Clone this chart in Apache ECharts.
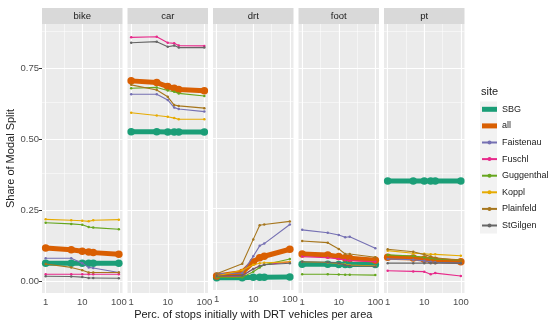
<!DOCTYPE html>
<html>
<head>
<meta charset="utf-8">
<script src="https://cdn.jsdelivr.net/npm/echarts@6/dist/echarts.min.js"></script>
<style>html,body{margin:0;padding:0;background:#fff}#c{width:556px;height:325px}</style>
</head>
<body>
<div id="c"></div>
<script>
// ---- data ----
const modes = ['bike', 'car', 'drt', 'foot', 'pt'];
const sites = ['SBG', 'all', 'Faistenau', 'Fuschl', 'Guggenthal', 'Koppl', 'Plainfeld', 'StGilgen'];
const stopsPct = [1, 5, 10, 15, 20, 100];
const xTicks = [1, 10, 100];
const yTicks = [0, 0.25, 0.5, 0.75];
const xMinorTicks = [Math.sqrt(10), Math.sqrt(1000)];
const yMinorTicks = [0.125, 0.375, 0.625, 0.875];

// rows follow the order of `sites`
const bike = [
  [0.065, 0.065, 0.065, 0.065, 0.065, 0.065],
  [0.118, 0.112, 0.107, 0.104, 0.102, 0.096],
  [0.082, 0.082, 0.065, 0.050, 0.048, 0.032],
  [0.026, 0.026, 0.026, 0.026, 0.026, 0.026],
  [0.207, 0.203, 0.200, 0.192, 0.190, 0.184],
  [0.219, 0.216, 0.214, 0.212, 0.216, 0.218],
  [0.062, 0.050, 0.040, 0.032, 0.032, 0.032],
  [0.019, 0.018, 0.016, 0.013, 0.013, 0.012]
];
const car = [
  [0.527, 0.527, 0.526, 0.526, 0.526, 0.526],
  [0.706, 0.700, 0.686, 0.680, 0.676, 0.671],
  [0.659, 0.659, 0.639, 0.612, 0.607, 0.598],
  [0.859, 0.861, 0.840, 0.838, 0.830, 0.829],
  [0.680, 0.683, 0.672, 0.668, 0.662, 0.653],
  [0.594, 0.584, 0.580, 0.575, 0.571, 0.571],
  [0.692, 0.674, 0.650, 0.621, 0.618, 0.610],
  [0.840, 0.844, 0.826, 0.830, 0.823, 0.823]
];
const drt = [
  [0.004, 0.004, 0.005, 0.005, 0.005, 0.006],
  [0.010, 0.022, 0.060, 0.075, 0.080, 0.105],
  [0.018, 0.020, 0.080, 0.117, 0.125, 0.193],
  [0.005, 0.010, 0.035, 0.045, 0.050, 0.060],
  [0.005, 0.005, 0.025, 0.040, 0.050, 0.070],
  [0.010, 0.030, 0.050, 0.055, 0.057, 0.060],
  [0.018, 0.053, 0.140, 0.190, 0.193, 0.204],
  [0.010, 0.012, 0.035, 0.045, 0.050, 0.055]
];
const foot = [
  [0.061, 0.061, 0.060, 0.060, 0.060, 0.060],
  [0.097, 0.094, 0.088, 0.084, 0.082, 0.075],
  [0.182, 0.172, 0.164, 0.156, 0.158, 0.117],
  [0.088, 0.084, 0.080, 0.076, 0.074, 0.070],
  [0.026, 0.026, 0.025, 0.024, 0.024, 0.023],
  [0.070, 0.067, 0.064, 0.060, 0.058, 0.055],
  [0.143, 0.137, 0.115, 0.097, 0.097, 0.086],
  [0.070, 0.068, 0.065, 0.058, 0.056, 0.053]
];
const pt = [
  [0.354, 0.354, 0.354, 0.354, 0.354, 0.354],
  [0.086, 0.083, 0.079, 0.076, 0.074, 0.070],
  [0.080, 0.077, 0.073, 0.070, 0.068, 0.065],
  [0.038, 0.036, 0.035, 0.026, 0.030, 0.020],
  [0.094, 0.090, 0.085, 0.082, 0.080, 0.075],
  [0.109, 0.100, 0.098, 0.096, 0.096, 0.091],
  [0.114, 0.105, 0.095, 0.088, 0.084, 0.074],
  [0.065, 0.065, 0.065, 0.065, 0.065, 0.065]
];
const modeData = { bike: bike, car: car, drt: drt, foot: foot, pt: pt };
const siteColors = ['#1B9E77', '#D95F02', '#7570B3', '#E7298A', '#66A61E', '#E6AB02', '#A6761D', '#666666'];
const thickSites = ['SBG', 'all'];

// ---- layout ----
const panelLefts = [42, 127.5, 213, 298.5, 384];
const panelW = 80.5, panelTop = 24, panelH = 269;
const xMin = Math.pow(10, -0.1), xMax = Math.pow(10, 2.1);
const yMin = -0.04, yMax = 0.906;
const FONT = 'Liberation Sans, Arial, sans-serif';

const grid = [], xAxis = [], yAxis = [], series = [], graphic = [];
modes.forEach((m, i) => {
  grid.push({ left: panelLefts[i], top: panelTop, width: panelW, height: panelH,
    show: true, backgroundColor: '#EBEBEB', borderWidth: 0, z: 0, containLabel: false });
  xAxis.push({ type: 'log', gridIndex: i, min: xMin, max: xMax,
    axisLine: { show: false },
    axisTick: { show: true, length: 3, lineStyle: { color: '#333333', width: 1 }, customValues: xTicks },
    axisLabel: { show: true, customValues: xTicks, color: '#4D4D4D', fontSize: 9.5, fontFamily: FONT, margin: 4,
      formatter: v => String(Math.round(v)) },
    splitLine: { show: true, lineStyle: { color: '#FFFFFF', width: 1.1 } },
    name: i === 2 ? 'Perc. of stops initially with DRT vehicles per area' : '',
    nameLocation: 'middle', nameGap: 19,
    nameTextStyle: { fontSize: 11, color: '#1A1A1A', fontFamily: FONT }
  });
  yAxis.push({ type: 'value', gridIndex: i, min: yMin, max: yMax,
    axisLine: { show: false },
    axisTick: { show: i === 0, length: 3, lineStyle: { color: '#333333', width: 1 }, customValues: yTicks },
    axisLabel: { show: i === 0, customValues: yTicks, color: '#4D4D4D', fontSize: 9.5, fontFamily: FONT, margin: 3,
      formatter: v => v.toFixed(2) },
    splitLine: { show: true, lineStyle: { color: '#FFFFFF', width: 1.1 } },
    name: i === 0 ? 'Share of Modal Split' : '',
    nameLocation: 'middle', nameGap: 18,
    nameTextStyle: { fontSize: 11, color: '#1A1A1A', fontFamily: FONT }
  });
  // grid lines (major + minor) through the axes' scales
  const gl = [];
  xMinorTicks.forEach(v => gl.push({ xAxis: v, lineStyle: { width: 0.5 } }));
  yMinorTicks.forEach(v => gl.push({ yAxis: v, lineStyle: { width: 0.5 } }));
  xTicks.forEach(v => gl.push({ xAxis: v, lineStyle: { width: 1.1 } }));
  yTicks.forEach(v => gl.push({ yAxis: v, lineStyle: { width: 1.1 } }));
  series.push({ type: 'line', xAxisIndex: i, yAxisIndex: i, data: [], z: 5, silent: true, animation: false,
    markLine: { silent: true, symbol: 'none', animation: false, z: 5, label: { show: false },
      lineStyle: { color: '#FFFFFF', type: 'solid' }, emphasis: { disabled: true }, data: gl } });
  // strip
  graphic.push({ type: 'rect', left: panelLefts[i], top: 8, shape: { width: panelW, height: 16 },
    style: { fill: '#D9D9D9' }, silent: true });
  graphic.push({ type: 'text', x: panelLefts[i] + panelW / 2, y: 16,
    style: { text: m, fill: '#1A1A1A', fontSize: 9.5, fontFamily: FONT, align: 'center', verticalAlign: 'middle' } });

  const rows = modeData[m];
  sites.forEach((s, k) => {
    const thick = thickSites.indexOf(s) >= 0;
    series.push({
      name: s, type: 'line', xAxisIndex: i, yAxisIndex: i,
      data: stopsPct.map((x, j) => [x, rows[k][j]]),
      color: siteColors[k],
      lineStyle: { width: thick ? 5 : 1.1, color: siteColors[k] },
      itemStyle: { color: siteColors[k], borderWidth: 0 },
      symbol: 'circle', symbolSize: thick ? 7.5 : 2.5, showSymbol: true,
      animation: false, silent: true, z: 10 + k
    });
  });
});

// legend key background and title
graphic.push({ type: 'rect', left: 480, top: 101.5, shape: { width: 17, height: 132 }, style: { fill: '#F2F2F2' }, silent: true });
graphic.push({ type: 'text', x: 481, y: 91.5,
  style: { text: 'site', fill: '#1A1A1A', fontSize: 11, fontFamily: FONT, align: 'left', verticalAlign: 'middle' } });

const chart = echarts.init(document.getElementById('c'), null, { renderer: 'canvas' });
chart.setOption({
  backgroundColor: '#FFFFFF',
  animation: false,
  textStyle: { fontFamily: FONT },
  grid: grid, xAxis: xAxis, yAxis: yAxis, series: series,
  graphic: { elements: graphic, z: 0 },
  legend: {
    orient: 'vertical', left: 481, top: 103.3, padding: 0, z: 20,
    itemWidth: 15, itemHeight: 5, itemGap: 4.6,
    textStyle: { fontSize: 9, color: '#1A1A1A', fontFamily: FONT, lineHeight: 12 },
    data: sites.map(s => thickSites.indexOf(s) >= 0 ? { name: s, icon: 'rect' } : { name: s }),
    selectedMode: false
  }
});
</script>
</body>
</html>
